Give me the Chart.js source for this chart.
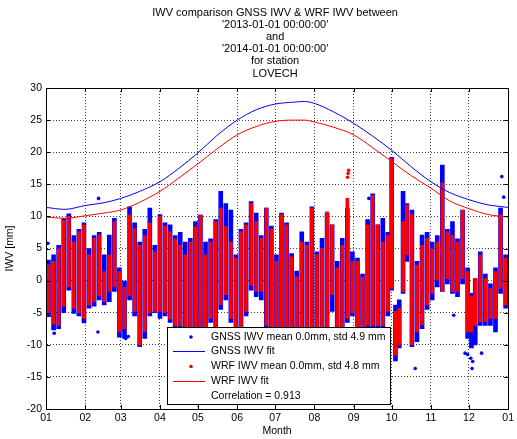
<!DOCTYPE html>
<html>
<head>
<meta charset="utf-8">
<script src="https://cdn.jsdelivr.net/npm/chart.js@4.4.0/dist/chart.umd.min.js"></script>
<style>
  html, body { margin: 0; padding: 0; background: #fff; }
</style>
</head>
<body>
<canvas id="iwvChart" width="517" height="439"></canvas>
<script>
// title lines, axis labels
const titleLines = [
    'IWV comparison GNSS IWV & WRF IWV between',
    "'2013-01-01 00:00:00'",
    'and',
    "'2014-01-01 00:00:00'",
    'for station',
    'LOVECH'
];
const correlationText = 'Correlation = 0.913';

// x axis: day of year, ticks at month starts
const monthTicks = [0, 31, 59, 90, 120, 151, 181, 212, 243, 273, 304, 334, 365];
const monthLabels = ['01', '02', '03', '04', '05', '06', '07', '08', '09', '10', '11', '12', '01'];

// IWV deviations, grouped into short day bins (low / high of each streak)
const binDays = [2, 6, 10, 14, 18, 22, 26, 30, 34, 38, 42, 46, 50, 54, 58, 62, 66, 70, 74, 78,
    82, 86, 90, 94, 98, 102, 106, 110, 114, 118, 122, 126, 130, 134, 138, 142, 146, 150, 154, 158,
    162, 166, 170, 174, 178, 182, 186, 190, 194, 198, 202, 206, 210, 214, 218, 222, 226, 230, 234, 238,
    242, 246, 250, 254, 258, 262, 266, 270, 273, 276, 279, 282, 285, 289, 293, 297, 301, 305, 309, 313,
    317, 321, 325, 329, 333, 336, 339, 343, 347, 351, 355, 359, 363];

const gnssLow = [-5.6, -7.7, -7.5, -5, -1.5, -5.1, -5.5, -6.6, -4.3, -4,
    -3, -3.8, -3.3, -1.7, -8.8, -9, -3, -5.5, -10.3, -9,
    -5.5, -5, -5.9, -5.5, -6.5, -7.5, -7.5, -8.5, -8.5, -8.5,
    -8.5, -8.5, -6.5, -8.5, -4.5, -3, -6.5, -8.5, -8.5, -5.5,
    -1.5, -2.5, -3, -7.5, -8.5, -8.5, -8.5, -8.5, -8.5, -8.5,
    -8.5, -8.5, -8.5, -8.5, -8.5, -8.5, -4.8, -8.5, -8.5, -6.5,
    -5.5, -8.5, -8.5, -7.5, -7.5, -7.5, -7.5,
    -5.5, -1.5, -12.5, -10.5, -2, 3, -10.3, -9.5, -7.5, -4.5, -3, -1, -1.7,
    -0.5, -2, -2.5, -0.5, -9, -10.5, -10, -7, -7, -7, -8, -2, -4.3];
const gnssHigh = [3.2, 4, 5.5, 9.7, 10.4, 7, 8, 9, 5, 7,
    7.5, 4, 7.1, 9.7, 2, 0, 11.5, 9, 6, 8,
    11.3, 5.5, 10.3, 9, 8.7, 7, 7.5, 6, 6.6, 9.2,
    10.2, 6, 6.5, 9.5, 13.9, 12, 11, 4, 8, 9,
    12.3, 10.5, 7, 11.3, 8.5, 4, 10.5, 9, 4.2, 1.5,
    7.6, 6, 11.5, 4.5, 6.6, 10.5, 8.7, 3, 6.6, 11.3,
    4.5, 3.5, 1, 9.5, 13.5, 8.7, 9.7,
    7.5, 19.2, -3.8, -3, 13.9, 12, 11, 3, 7.1, 7.5, 6, 7, 18,
    8, 9.2, 6.5, 11, 2, -2, 0.3, 4.5, 1, -0.5, 2, 11.3, 4];
const wrfLow = [-5, -6.8, -7, -4, -1, -4.3, -5, -5.9, -3.8, -3.3,
    -2.3, -3.3, -1.7, -1, -8, -7.5, -2.3, -4.8, -10, -8,
    -5, -4.8, -4.8, -5, -6, -7, -7, -8, -8, -8,
    -8, -8, -5.9, -8, -3.8, -2.2, -5.9, -8, -8, -4.8,
    -0.7, -1.7, -1.7, -7, -8, -8, -8, -8, -8, -8,
    -8, -8, -8, -8, -8, -8, -2.2, -8, -8, -5.9,
    -5, -8, -8, -7, -7, -7, -7,
    -4.8, -1.2, -11.6, -10, -1.7, 4, -10, -8, -6.9, -3.8, -2, 0, -1.7,
    0.3, -1.7, -1.7, 0.3, -8, -8, -7, -6.4, -6.4, -5.9, -5.9, -1.2, -3.8];
const wrfHigh = [2.5, 3, 5, 9.4, 10, 6, 7.6, 8.7, 4, 6.6,
    7.1, 1.4, 4, 9.2, 1.4, -1, 10.2, 8.1, 5.5, 7,
    9, 4.5, 10, 8.5, 7.6, 6.5, 5.5, 4, 6, 8.4,
    10.2, 4, 6, 9.2, 11.3, 8.4, 6, 3.5, 7.6, 8.7,
    12, 9.2, 6.6, 11.3, 8, 3, 10.3, 8.7, 3.7, 0.6,
    6, 5.5, 11.3, 4, 5, 10.7, 8.7, 2, 5.5, 12.8,
    3, 3, 0.5, 8.7, 13.3, 8.7, 6,
    7, 19, -4.8, -4.3, 9.2, 11.8, 10.3, 2.4, 5.5, 6.6, 5, 6, 15.2,
    7.6, 7, 6, 11, 1.4, -2.5, 0.3, 4, 0.3, -1.2, 1.4, 10.3, 3.5];

// isolated points away from the streaks
const gnssOutDays = [1.5, 6.5, 41.5, 41, 63, 65, 255, 291.6, 322, 331, 333, 335.5, 336.5, 337, 344, 360, 361.5];
const gnssOutVals = [5.8, -8.2, 12.8, -8, -9, -8.7, 12.8, -13.7, -5.4, -11.3, -11.5, -12.1, -13.7, -12.6, -11.3, 16.2, 13];
const wrfOutDays = [238.2, 238.6, 239];
const wrfOutVals = [16.1, 16.7, 17.2];

// seasonal fit curves
const fitDays = [0, 15, 31, 45, 59, 74, 90, 105, 120, 135, 151, 166, 181, 196, 204, 212, 227, 243, 258, 273, 288, 304, 319, 334, 349, 365];
const gnssFit = [11.4, 11.1, 11.7, 12.1, 12.8, 13.9, 15.4, 17.5, 19.9, 22.6, 25.0, 26.6, 27.5, 27.8, 27.9, 27.6, 26.3, 24.5, 22.5, 20.3, 17.8, 15.4, 13.7, 12.6, 11.8, 11.4];
const wrfFit = [9.9, 9.7, 10.1, 10.5, 11.0, 12.2, 13.9, 16.0, 18.2, 20.5, 22.7, 24.0, 24.8, 25.0, 25.0, 24.7, 23.9, 22.7, 20.7, 18.55, 16.4, 14.4, 12.4, 11.2, 10.3, 9.9];

const FONT = '"Liberation Sans", Arial, Helvetica, sans-serif';
const BLUE = '#0000ff';
const RED = '#ff0000';

const toRange = (lo, hi) => binDays.map((d, i) => ({ x: d, y: [lo[i], hi[i]] }));
const toPoints = (xs, ys) => xs.map((d, i) => ({ x: d, y: ys[i] }));

// MATLAB style frame: box, inward ticks, title, legend box
const matlabFrame = {
    id: 'matlabFrame',
    afterDatasetsDraw(chart) {
        const ctx = chart.ctx;
        const area = chart.chartArea;
        const xs = chart.scales.x;
        const ys = chart.scales.y;
        ctx.save();
        ctx.strokeStyle = '#000';
        ctx.lineWidth = 1;
        ctx.beginPath();
        monthTicks.forEach(v => {
            const px = Math.round(xs.getPixelForValue(v)) + 0.5;
            ctx.moveTo(px, area.bottom); ctx.lineTo(px, area.bottom - 4);
            ctx.moveTo(px, area.top); ctx.lineTo(px, area.top + 4);
        });
        for (let v = -20; v <= 30; v += 5) {
            const py = Math.round(ys.getPixelForValue(v)) + 0.5;
            ctx.moveTo(area.left, py); ctx.lineTo(area.left + 4, py);
            ctx.moveTo(area.right, py); ctx.lineTo(area.right - 4, py);
        }
        ctx.stroke();
        ctx.strokeRect(Math.round(area.left) + 0.5, Math.round(area.top) + 0.5,
            Math.round(area.right - area.left), Math.round(area.bottom - area.top));

        // legend box
        const lx = 167.5, ly = 327.5, lw = 223, lh = 77;
        ctx.fillStyle = '#fff';
        ctx.fillRect(lx, ly, lw, lh);
        ctx.strokeStyle = '#000';
        ctx.strokeRect(lx, ly, lw, lh);
        const rows = [337, 351, 366.5, 381, 396.5];
        const ds = chart.data.datasets;
        const entries = [
            { kind: 'dot', color: BLUE, text: ds[4].label },
            { kind: 'line', color: BLUE, text: ds[0].label },
            { kind: 'dot', color: RED, text: ds[2].label },
            { kind: 'line', color: RED, text: ds[1].label },
            { kind: 'none', text: correlationText }
        ];
        ctx.font = '10.5px ' + FONT;
        ctx.textBaseline = 'middle';
        ctx.textAlign = 'left';
        entries.forEach((e, i) => {
            const y = rows[i];
            if (e.kind === 'dot') {
                ctx.fillStyle = e.color;
                ctx.beginPath();
                ctx.arc(191, y, 1.8, 0, Math.PI * 2);
                ctx.fill();
            } else if (e.kind === 'line') {
                ctx.strokeStyle = e.color;
                ctx.beginPath();
                ctx.moveTo(173, y + 0.5); ctx.lineTo(205, y + 0.5);
                ctx.stroke();
            }
            ctx.fillStyle = '#000';
            ctx.fillText(e.text, 211, y);
        });

        // multi line title centred on the plot
        const cx = (area.left + area.right) / 2 - 2;
        ctx.font = '11px ' + FONT;
        ctx.textAlign = 'center';
        titleLines.forEach((t, i) => ctx.fillText(t, cx, 12.5 + i * 12.2));
        ctx.restore();
    }
};

new Chart(document.getElementById('iwvChart'), {
    type: 'bar',
    data: {
        datasets: [
            {
                type: 'line', label: 'GNSS IWV fit',
                data: toPoints(fitDays, gnssFit),
                borderColor: BLUE, borderWidth: 1, pointRadius: 0,
                cubicInterpolationMode: 'monotone', order: 0
            },
            {
                type: 'line', label: 'WRF IWV fit',
                data: toPoints(fitDays, wrfFit),
                borderColor: RED, borderWidth: 1, pointRadius: 0,
                cubicInterpolationMode: 'monotone', order: 0
            },
            {
                type: 'bar', label: 'WRF IWV mean 0.0mm, std 4.8 mm',
                data: toRange(wrfLow, wrfHigh),
                backgroundColor: RED, borderWidth: 0, barThickness: 3,
                grouped: false, order: 2
            },
            {
                type: 'scatter', label: 'WRF outliers',
                data: toPoints(wrfOutDays, wrfOutVals),
                backgroundColor: RED, borderWidth: 0, pointRadius: 1.8, order: 1
            },
            {
                type: 'bar', label: 'GNSS IWV mean 0.0mm, std 4.9 mm',
                data: toRange(gnssLow, gnssHigh),
                backgroundColor: BLUE, borderWidth: 0, barThickness: 4,
                grouped: false, order: 4
            },
            {
                type: 'scatter', label: 'GNSS outliers',
                data: toPoints(gnssOutDays, gnssOutVals),
                backgroundColor: BLUE, borderWidth: 0, pointRadius: 1.8, order: 3
            }
        ]
    },
    options: {
        responsive: false,
        animation: false,
        devicePixelRatio: 1,
        layout: { padding: { top: 88, right: 4, left: 0, bottom: 0 } },
        plugins: {
            legend: { display: false },
            tooltip: { enabled: false },
            title: { display: false }
        },
        scales: {
            x: {
                type: 'linear',
                min: 0, max: 365,
                offset: false,
                afterBuildTicks: scale => { scale.ticks = monthTicks.map(v => ({ value: v })); },
                afterFit: scale => { scale.height = 30; },
                ticks: {
                    autoSkip: false, maxRotation: 0, padding: 3,
                    color: '#000', font: { family: FONT, size: 10.5 },
                    callback: (v, i) => monthLabels[i]
                },
                grid: { color: '#444', drawTicks: false, offset: false },
                border: { color: '#000', dash: [1, 2] },
                title: {
                    display: true, text: 'Month', color: '#000',
                    font: { family: FONT, size: 10.5 }, padding: { top: 0, bottom: 2 }
                }
            },
            y: {
                min: -20, max: 30,
                afterFit: scale => { scale.width = 46; },
                ticks: {
                    stepSize: 5, padding: 4,
                    color: '#000', font: { family: FONT, size: 10.5 }
                },
                grid: { color: '#444', drawTicks: false },
                border: { color: '#000', dash: [1, 2] },
                title: {
                    display: true, text: 'IWV [mm]', color: '#000',
                    font: { family: FONT, size: 10.5 }, padding: { top: 4, bottom: 0 }
                }
            }
        }
    },
    plugins: [matlabFrame]
});
</script>
</body>
</html>
